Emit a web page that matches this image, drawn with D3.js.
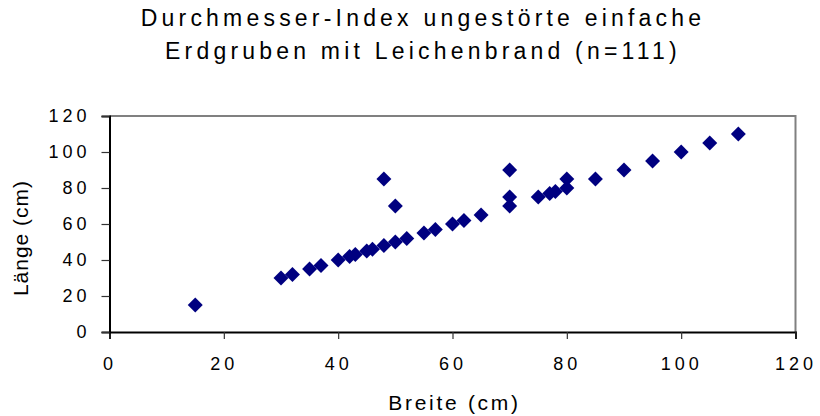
<!DOCTYPE html>
<html>
<head>
<meta charset="utf-8">
<script src="https://d3js.org/d3.v7.min.js"></script>
<style>
  body { margin: 0; background: #fff; }
  text { font-family: "Liberation Sans", Arial, sans-serif; fill: #000; }
</style>
</head>
<body>
<div id="chart"></div>
<script>
// Durchmesser-Index scatter (Breite vs Laenge)

var breite = [15, 30, 32, 35, 37, 40, 42, 43, 45, 46, 48, 50, 48, 50, 52, 55, 57, 60, 62, 65,
              70, 70, 70, 75, 77, 78, 80, 80, 85, 90, 95, 100, 105, 110]
var laenge = [15, 30, 32, 35, 37, 40, 42, 43, 45, 46, 48, 50, 85, 70, 52, 55, 57, 60, 62, 65,
              70, 75, 90, 75, 77, 78, 80, 85, 85, 90, 95, 100, 105, 110]

var xTicks = [0, 20, 40, 60, 80, 100, 120]
var yTicks = [0, 20, 40, 60, 80, 100, 120]

var titleLines = ["Durchmesser-Index ungestörte einfache", "Erdgruben mit Leichenbrand (n=111)"]

var width = 820, height = 416
var margin = { top: 116, right: 24.5, bottom: 84, left: 109.5 }

var svg = d3.select("#chart").append("svg")
    .attr("width", width)
    .attr("height", height)

var x = d3.scaleLinear()
    .domain([0, 120])
    .range([margin.left, width - margin.right])

var y = d3.scaleLinear()
    .domain([0, 120])
    .range([height - margin.bottom, margin.top])

// frame: top + right grey
svg.append("path")
    .attr("d", "M" + x(0) + "," + y(120) + "H" + x(120) + "V" + y(0))
    .attr("fill", "none")
    .attr("stroke", "#808080")
    .attr("stroke-width", 2)

// axes
var xAxis = svg.append("g")
    .attr("transform", "translate(0," + y(0) + ")")
    .call(d3.axisBottom(x).tickValues(xTicks).tickSize(7).tickPadding(18))

var yAxis = svg.append("g")
    .attr("transform", "translate(" + x(0) + ",0)")
    .call(d3.axisLeft(y).tickValues(yTicks).tickSize(8).tickPadding(11))

svg.selectAll("g").attr("font-size", 18).attr("font-family", null)
svg.selectAll(".domain").attr("stroke", "#000").attr("stroke-width", 2)
svg.selectAll(".tick line").attr("stroke", "#333").attr("stroke-width", 1.2)
svg.selectAll(".tick text")
    .style("letter-spacing", "4px")
    .attr("fill", "#000")

// points
svg.selectAll(".pt")
    .data(breite)
    .enter().append("path")
    .attr("class", "pt")
    .attr("d", d3.symbol().type(d3.symbolSquare).size(112))
    .attr("transform", function(d, i) {
      return "translate(" + x(d) + "," + y(laenge[i]) + ") rotate(45)"
    })
    .attr("fill", "#000080")

// title
svg.selectAll(".title")
    .data(titleLines)
    .enter().append("text")
    .attr("class", "title")
    .attr("x", 423)
    .attr("y", function(d, i) { return 26 + i * 33 })
    .attr("text-anchor", "middle")
    .style("font-size", "23px")
    .style("letter-spacing", "4.2px")
    .text(function(d) { return d })

// axis titles
svg.append("text")
    .attr("x", (x(0) + x(120)) / 2 + 2)
    .attr("y", 410)
    .attr("text-anchor", "middle")
    .style("font-size", "21px")
    .style("letter-spacing", "2.7px")
    .text("Breite (cm)")

svg.append("text")
    .attr("transform", "translate(28," + 238 + ") rotate(-90)")
    .attr("text-anchor", "middle")
    .style("font-size", "21px")
    .style("letter-spacing", "1px")
    .text("Länge (cm)")
</script>
</body>
</html>
